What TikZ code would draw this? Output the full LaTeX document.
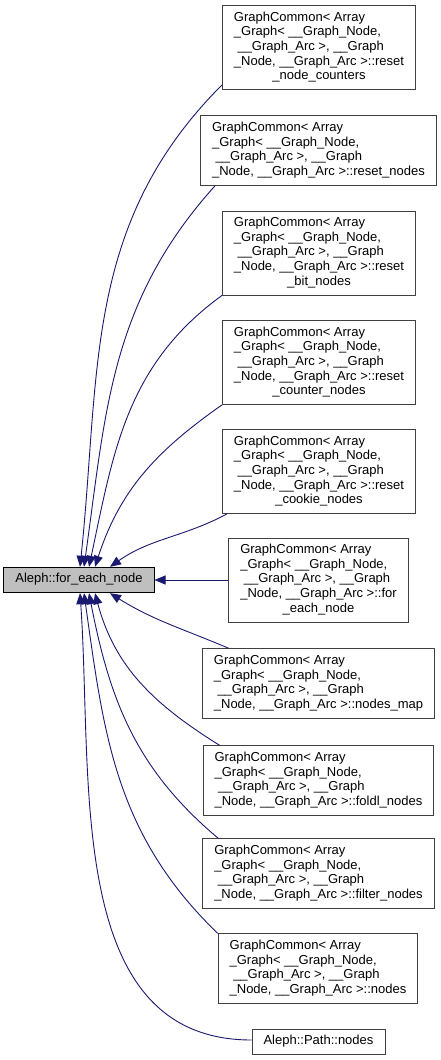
\documentclass[tikz,border=0pt]{standalone}
\usepackage{xcolor}
\usepackage{fontspec}
\setmainfont{Liberation Sans}
\usepackage{tikz}
\usetikzlibrary{arrows.meta}

\definecolor{edgeblue}{HTML}{191970}
\definecolor{boxgray}{HTML}{404040}
\definecolor{mainfill}{HTML}{BFBFBF}

% label of a caller box: left-aligned lines, centred last line
\newcommand{\fnlines}[2]{\begin{tabular}{@{}l@{}}#1\\\multicolumn{1}{@{}c@{}}{#2}\end{tabular}}
\newcommand{\gchead}{GraphCommon< Array\\\_Graph< \_\_Graph\_Node,\\\ \_\_Graph\_Arc >, \_\_Graph}

\begin{document}
\begin{tikzpicture}[x=1pt, y=1pt,
    every node/.style={font=\fontsize{13}{14.6}\selectfont, inner xsep=11.5pt, inner ysep=5.5pt, line width=0.8pt},
    fn/.style={draw=boxgray, fill=white},
    mainfn/.style={draw=black, fill=mainfill},
    calls/.style={draw=edgeblue, fill=none, line width=0.9pt, {Triangle[length=11pt,width=9pt,fill=edgeblue]}-}]
        \useasboundingbox (0,0) rectangle (441,-1060);
        % called function
        \node[mainfn] (main) at (79,-580) {\strut Aleph::for\_each\_node};
        % callers
        \node[fn] (reset1) at (319,-47.5) {\fnlines{\gchead\\\_Node, \_\_Graph\_Arc >::reset}{\_node\_counters}};
        \node[fn] (reset2) at (318.5,-150.5) {\fnlines{\gchead}{\_Node, \_\_Graph\_Arc >::reset\_nodes}};
        \node[fn] (reset3) at (319,-253) {\fnlines{\gchead\\\_Node, \_\_Graph\_Arc >::reset}{\_bit\_nodes}};
        \node[fn] (reset4) at (319,-362.5) {\fnlines{\gchead\\\_Node, \_\_Graph\_Arc >::reset}{\_counter\_nodes}};
        \node[fn] (reset5) at (319,-471.5) {\fnlines{\gchead\\\_Node, \_\_Graph\_Arc >::reset}{\_cookie\_nodes}};
        \node[fn] (foreach) at (318.5,-580) {\fnlines{\gchead\\\_Node, \_\_Graph\_Arc >::for}{\_each\_node}};
        \node[fn] (nmap) at (318.5,-683.5) {\fnlines{\gchead}{\_Node, \_\_Graph\_Arc >::nodes\_map}};
        \node[fn] (foldl) at (318.5,-780.5) {\fnlines{\gchead}{\_Node, \_\_Graph\_Arc >::foldl\_nodes}};
        \node[fn] (filter) at (318.5,-873.5) {\fnlines{\gchead}{\_Node, \_\_Graph\_Arc >::filter\_nodes}};
        \node[fn] (gnodes) at (318,-968.5) {\fnlines{\gchead}{\_Node, \_\_Graph\_Arc >::nodes}};
        \node[fn] (pnodes) at (318.5,-1042) {\strut Aleph::Path::nodes};
        % call edges, upper side
        \draw[calls] ([xshift=1pt]main.north) to[out=84, in=225] ([yshift=5pt]reset1.south west);
        \draw[calls] ([xshift=5pt]main.north) to[out=82, in=228] ([xshift=15pt]reset2.south west);
        \draw[calls] ([xshift=10pt]main.north) to[out=78, in=216] (reset3.south west);
        \draw[calls] ([xshift=16pt]main.north) to[out=72, in=215] (reset4.south west);
        \draw[calls] ([xshift=31pt]main.north) to[out=35, in=208] ([xshift=5pt]reset5.south west);
        \draw[calls] (main.east) -- (foreach.west);
        % call edges, lower side
        \draw[calls] ([xshift=31pt]main.south) to[out=-32, in=157] ([xshift=27pt]nmap.north west);
        \draw[calls] ([xshift=16pt]main.south) to[out=-75, in=148] ([xshift=17pt]foldl.north west);
        \draw[calls] ([xshift=10pt]main.south) to[out=-79, in=140] ([xshift=16pt]filter.north west);
        \draw[calls] ([xshift=5pt]main.south) to[out=-82, in=136] (gnodes.north west);
        \draw[calls] ([xshift=1pt]main.south) to[out=-86, in=180] ([yshift=2pt]pnodes.west);
    \end{tikzpicture}
\end{document}
